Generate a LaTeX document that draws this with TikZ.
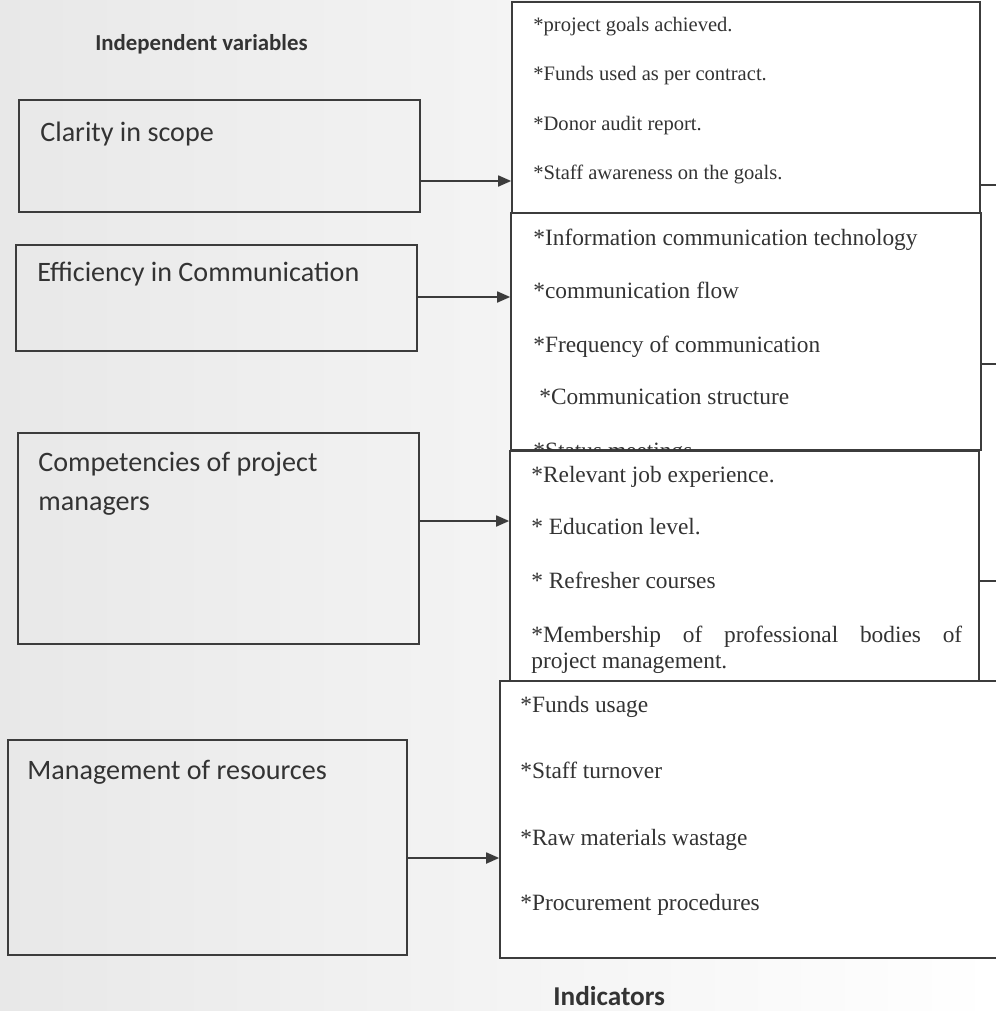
\documentclass[tikz,border=0pt]{standalone}
\usepackage{fontspec}
\setmainfont{Liberation Serif}
\newfontfamily\calibri{Carlito}
\usetikzlibrary{arrows.meta}
\definecolor{ink}{HTML}{333333}
\definecolor{boxline}{HTML}{3C3C3C}

\begin{document}
\begin{tikzpicture}[x=0.02cm, y=-0.02cm, >={Triangle[length=0.26cm, width=0.22cm]},
  varbox/.style={draw=boxline, line width=1pt, inner sep=0pt},
  indbox/.style={varbox, fill=white},
  vartext/.style={anchor=base west, inner sep=0pt, text=ink, font=\calibri\fontsize{16}{19}\selectfont},
  indtext/.style={anchor=base west, inner sep=0pt, text=ink, font=\fontsize{13.3}{16}\selectfont},
  heading/.style={anchor=base west, inner sep=0pt, text=ink, font=\calibri\bfseries\fontsize{13}{16}\selectfont},
  flow/.style={->, draw=boxline, line width=1pt}
]
  \clip (0,0) rectangle (996,1011);
  \shade[left color=black!9, right color=white] (0,0) rectangle (996,1011);

  % Headings
  \node[heading] (hvar) at (95,50) {Independent variables};
  \node[heading, font=\calibri\bfseries\fontsize{15.5}{18}\selectfont] (hind) at (553,1005) {Indicators};

  % Independent variables (left column)
  \node[varbox, minimum width=8.02cm, minimum height=2.24cm] (scope) at (219.5,156) {};
  \node[vartext] (scopet) at (40,141) {Clarity in scope};
  \node[varbox, minimum width=8.02cm, minimum height=2.12cm] (comm) at (216.5,298) {};
  \node[vartext] (commt) at (37,281) {Efficiency in Communication};
  \node[varbox, minimum width=8.02cm, minimum height=4.22cm] (comp) at (218.5,538.5) {};
  \node[vartext] (compt) at (38,471) {Competencies of project};
  \node[vartext] (compu) at (38,510) {managers};
  \node[varbox, minimum width=7.98cm, minimum height=4.3cm] (res) at (207.5,847.5) {};
  \node[vartext] (rest) at (27,779) {Management of resources};

  % Indicators (right column)
  \node[indbox, minimum width=9.36cm, minimum height=4.22cm] (ind1) at (746,107.5) {};
  \node[indtext, font=\fontsize{11.7}{14}\selectfont] (i1a) at (533,31) {*project goals achieved.};
  \node[indtext, font=\fontsize{11.7}{14}\selectfont] (i1b) at (533,80) {*Funds used as per contract.};
  \node[indtext, font=\fontsize{11.7}{14}\selectfont] (i1c) at (533,130) {*Donor audit report.};
  \node[indtext, font=\fontsize{11.7}{14}\selectfont] (i1d) at (533,179) {*Staff awareness on the goals.};

  \node[indbox, minimum width=9.4cm, minimum height=4.74cm] (ind2) at (746,331.5) {};
  \node[indtext] (i2a) at (533,245) {*Information communication technology};
  \node[indtext] (i2b) at (533,298) {*communication flow};
  \node[indtext] (i2c) at (533,352) {*Frequency of communication};
  \node[indtext] (i2d) at (539,404) {*Communication structure};
  \node[indtext] (i2e) at (533,458) {*Status meetings};

  \node[indbox, minimum width=9.38cm, minimum height=4.6cm] (ind3) at (744.5,566) {};
  \node[indtext] (i3a) at (531,482) {*Relevant job experience.};
  \node[indtext] (i3b) at (531,534) {* Education level.};
  \node[indtext] (i3c) at (531,588) {* Refresher courses};
  \node[indtext] (i3d) at (531,642) {\makebox[8.62cm][s]{*Membership of professional bodies of}};
  \node[indtext] (i3e) at (531,668) {project management.};

  \node[indbox, minimum width=10.2cm, minimum height=5.54cm] (ind4) at (755,819.5) {};
  \node[indtext] (i4a) at (520,712) {*Funds usage};
  \node[indtext] (i4b) at (520,778) {*Staff turnover};
  \node[indtext] (i4c) at (520,845) {*Raw materials wastage};
  \node[indtext] (i4d) at (520,910) {*Procurement procedures};

  % Arrows from variables to indicators
  \coordinate (a1) at (0,181);
  \coordinate (a2) at (0,297);
  \coordinate (a3) at (0,521);
  \coordinate (a4) at (0,858);
  \draw[flow] (scope.east |- a1) -- (ind1.west |- a1);
  \draw[flow] (comm.east |- a2) -- (ind2.west |- a2);
  \draw[flow] (comp.east |- a3) -- (ind3.west |- a3);
  \draw[flow] (res.east |- a4) -- (ind4.west |- a4);

  % Lines leaving on the right
  \coordinate (o1) at (996,185);
  \coordinate (o2) at (996,364);
  \coordinate (o3) at (996,581);
  \draw[boxline, line width=1pt] (o1 -| ind1.east) -- (o1);
  \draw[boxline, line width=1pt] (o2 -| ind2.east) -- (o2);
  \draw[boxline, line width=1pt] (o3 -| ind3.east) -- (o3);
\end{tikzpicture}
\end{document}
